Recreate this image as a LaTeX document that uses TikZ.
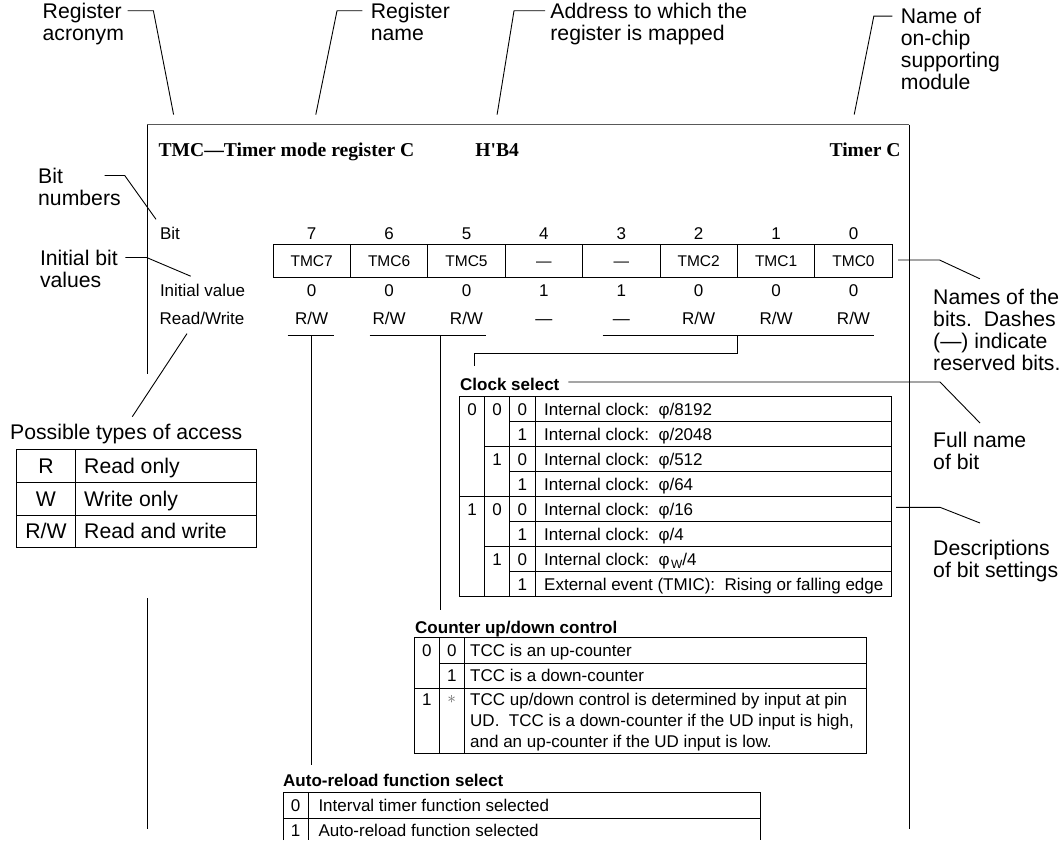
\documentclass[tikz,border=0pt]{standalone}
\usepackage{fontspec}
\setmainfont{Liberation Sans}
\newfontfamily\hdrfont{Liberation Serif}
\newcommand{\RWx}{R/W}
\newcommand{\phiwx}{φ\kern1.5pt\raisebox{-3.5pt}{\fontsize{12}{12}\selectfont W}/4}
\begin{document}
\begin{tikzpicture}[x=1pt,y=-1pt,
  lbl/.style={font=\fontsize{21.2}{22}\selectfont, inner sep=0pt, align=left, anchor=north west},
  tx/.style={font=\fontsize{17}{21}\selectfont, inner sep=0pt},
  cellt/.style={font=\fontsize{15.5}{18}\selectfont, inner sep=0pt, anchor=base},
  ttl/.style={font=\fontsize{17}{20}\selectfont\bfseries, inner sep=0pt, anchor=base west},
  hdr/.style={font=\fontsize{19.6}{22}\selectfont\hdrfont\bfseries, inner sep=0pt},
  big/.style={font=\fontsize{21.2}{23}\selectfont, inner sep=0pt},
  ln/.style={line width=1pt},
  lead/.style={line width=0.9pt},
  frametop/.style={line width=1.8pt, draw=black!65},
]
\useasboundingbox (0,0) rectangle (1059,840);

% ---------- frame ----------
\draw[frametop] (147.3,124.5) -- (909,124.5);
\draw[ln] (147.3,124.5) -- (147.3,373.8);
\draw[ln] (147.3,598) -- (147.3,829);
\draw[ln] (909,124.5) -- (909,829);

% ---------- top labels ----------
\node[lbl] (lacr) at (42.5,3) {Register\\acronym};
\node[lbl] (lname) at (370.7,3) {Register\\name};
\node[lbl] (laddr) at (550.2,3) {Address to which the\\register is mapped};
\node[lbl] (lmod) at (900.7,7.5) {Name of\\on-chip\\supporting\\module};

\coordinate (a1) at (127.5,10.8); \coordinate (a2) at (153.4,10.8); \coordinate (a3) at (173.6,114.6);
\coordinate (b1) at (362.3,10.8); \coordinate (b2) at (337,10.8);   \coordinate (b3) at (315.8,114.6);
\coordinate (c1) at (545.2,10.8); \coordinate (c2) at (514,10.8);   \coordinate (c3) at (497.1,114.6);
\coordinate (d1) at (892.3,16.2); \coordinate (d2) at (873.8,16.2); \coordinate (d3) at (854.2,114.6);
\draw[lead] (a1) -- (a2) -- (a3);
\draw[lead] (b1) -- (b2) -- (b3);
\draw[lead] (c1) -- (c2) -- (c3);
\draw[lead] (d1) -- (d2) -- (d3);

% ---------- header ----------
\node[hdr, anchor=base west] (hname) at (158.4,156.7) {TMC—Timer mode register C};
\node[hdr, anchor=base west] (haddr) at (475.2,156.7) {H'B4};
\node[hdr, anchor=base east] (hmod) at (900.7,156.7) {Timer C};

% ---------- left labels ----------
\node[lbl] (lbitn) at (38,168.2) {Bit\\numbers};
\node[lbl] (linit) at (39.8,249.7) {Initial bit\\values};
\coordinate (e1) at (104.5,175.5); \coordinate (e2) at (124.7,175.5); \coordinate (e3) at (156,219.3);
\coordinate (f1) at (125.4,257.5); \coordinate (f2) at (146.6,257.5); \coordinate (f3) at (190.7,276.2);
\draw[lead] (e1) -- (e2) -- (e3);
\draw[lead] (f1) -- (f2) -- (f3);

% ---------- register rows ----------
\node[tx, anchor=base west] (rbit) at (159.8,239) {Bit};
\node[tx, anchor=base west] (rinit) at (159.8,296.8) {Initial value};
\node[tx, anchor=base west] (rrw) at (159.5,324) {Read/Write};

\draw[ln] (273,244.3) rectangle (892.2,277.3);
\foreach \k in {1,...,7} \draw[ln] ({273+77.4*\k},244.3) -- ({273+77.4*\k},277.3);

\foreach \b/\nm/\iv/\rw [count=\k from 0] in
  {7/TMC7/0/\RWx, 6/TMC6/0/\RWx, 5/TMC5/0/\RWx, 4/—/1/—, 3/—/1/—, 2/TMC2/0/\RWx, 1/TMC1/0/\RWx, 0/TMC0/0/\RWx}
{
  \pgfmathsetmacro\cx{273+77.4*(\k+0.5)}
  \node[tx, anchor=base] (bn\b) at (\cx,239) {\b};
  \node[cellt] (rc\b) at (\cx,266.2) {\nm};
  \node[tx, anchor=base] (iv\b) at (\cx,296.8) {\iv};
  \node[tx, anchor=base] (rw\b) at (\cx,324) {\rw};
}

% underlines
\draw[ln] (287.5,335) -- (333.9,335);
\draw[ln] (369.7,335) -- (486,335);
\draw[ln] (602.5,335) -- (873.8,335);

% right labels
\node[lbl] (lnames) at (933,288.5) {Names of the\\bits.\ \ Dashes\\(—) indicate\\reserved bits.};
\node[lbl] (lfull) at (933,431.5) {Full name\\of bit};
\node[lbl] (ldesc) at (933,539.5) {Descriptions\\of bit settings};
\coordinate (g1) at (898,260);   \coordinate (g2) at (939.5,260); \coordinate (g3) at (979.9,278.8);
\coordinate (h1) at (568.3,382); \coordinate (h2) at (940,382);   \coordinate (h3) at (980,423);
\coordinate (i1) at (896,507.3); \coordinate (i2) at (940,507.3); \coordinate (i3) at (980,523);
\draw[lead] (g1) -- (g2) -- (g3);
\draw[lead] (h1) -- (h2) -- (h3);
\draw[lead] (i1) -- (i2) -- (i3);

% ---------- access types ----------
\node[big, anchor=base west] (lposs) at (10,439.3) {Possible types of access};
\coordinate (j1) at (187,333.6); \coordinate (j2) at (132.3,416.7);
\draw[lead] (j1) -- (j2);
\draw[ln] (16,449.3) rectangle (256.7,547.7);
\draw[ln] (75.7,449.3) -- (75.7,547.7);
\draw[ln] (16,482.3) -- (256.7,482.3);
\draw[ln] (16,515) -- (256.7,515);
\node[big, anchor=base] (acR) at (46,473.4) {R};
\node[big, anchor=base] (acW) at (46,506.2) {W};
\node[big, anchor=base] (acRW) at (46,538.9) {R/W};
\node[big, anchor=base west] (adR) at (84,473.4) {Read only};
\node[big, anchor=base west] (adW) at (84,506.2) {Write only};
\node[big, anchor=base west] (adRW) at (84,538.9) {Read and write};

% ---------- connectors from bit groups ----------
\coordinate (k7a) at (311.5,335); \coordinate (k7b) at (311.5,765);
\coordinate (k5a) at (440.5,335); \coordinate (k5b) at (440.5,610);
\coordinate (k2a) at (737.5,335); \coordinate (k2b) at (737.5,353.5);
\coordinate (k2c) at (474,353.5); \coordinate (k2d) at (474,365.7);
\draw[ln] (k7a) -- (k7b);
\draw[ln] (k5a) -- (k5b);
\draw[ln] (k2a) -- (k2b) -- (k2c) -- (k2d);

% ---------- clock select ----------
\node[ttl] (tclk) at (460,390) {Clock select};
\draw[ln] (459.3,396.7) rectangle (891,596.7);
\foreach \xx in {484.7,509.7,535} \draw[ln] (\xx,396.7) -- (\xx,596.7);
\foreach \yy/\xs in {421.7/509.7, 446.7/484.7, 471.7/509.7, 496.7/459.3, 521.7/509.7, 546.7/484.7, 571.7/509.7}
  \draw[ln] (\xs,\yy) -- (891,\yy);
\node[tx, anchor=base] (cs2a) at (472,415.3) {0};
\node[tx, anchor=base] (cs2b) at (472,515.3) {1};
\node[tx, anchor=base] (cs1a) at (497.2,415.3) {0};
\node[tx, anchor=base] (cs1b) at (497.2,465.3) {1};
\node[tx, anchor=base] (cs1c) at (497.2,515.3) {0};
\node[tx, anchor=base] (cs1d) at (497.2,565.3) {1};
\foreach \v [count=\r from 0] in {0,1,0,1,0,1,0,1}
  \node[tx, anchor=base] (cs0\r) at (522.3,{415.3+25*\r}) {\v};
\foreach \d [count=\r from 0] in {{Internal clock:\ \ φ/8192},{Internal clock:\ \ φ/2048},{Internal clock:\ \ φ/512},{Internal clock:\ \ φ/64},{Internal clock:\ \ φ/16},{Internal clock:\ \ φ/4},{Internal clock:\ \ \phiwx},{External event (TMIC):\ \ Rising or falling edge}}
  \node[tx, anchor=base west] (csd\r) at (544,{415.3+25*\r}) {\d};

% ---------- counter up/down control ----------
\node[ttl] (tcnt) at (415,633) {Counter up/down control};
\draw[ln] (414.3,637.7) rectangle (866,753.3);
\draw[ln] (439.3,637.7) -- (439.3,753.3);
\draw[ln] (464.3,637.7) -- (464.3,753.3);
\draw[ln] (439.3,663.3) -- (866,663.3);
\draw[ln] (414.3,688.3) -- (866,688.3);
\node[tx, anchor=base] (cu1a) at (426.8,656.6) {0};
\node[tx, anchor=base] (cu1b) at (426.8,705.1) {1};
\node[tx, anchor=base] (cu0a) at (451.8,656.6) {0};
\node[tx, anchor=base] (cu0b) at (451.8,681.9) {1};
\node[tx, text=black!60] (cu0c) at (451.8,699.5) {$\ast$};
\node[tx, anchor=base west] (cud0) at (470,656.6) {TCC is an up-counter};
\node[tx, anchor=base west] (cud1) at (470,681.9) {TCC is a down-counter};
\node[tx, anchor=base west] (cud2) at (470,705.1) {TCC up/down control is determined by input at pin};
\node[tx, anchor=base west] (cud3) at (470,726.1) {UD.\ \ TCC is a down-counter if the UD input is high,};
\node[tx, anchor=base west] (cud4) at (470,747.1) {and an up-counter if the UD input is low.};

% ---------- auto-reload ----------
\node[ttl] (tar) at (283,786.2) {Auto-reload function select};
\draw[ln] (283,840) -- (283,792.7) -- (760,792.7) -- (760,840);
\draw[ln] (308.3,792.7) -- (308.3,840);
\draw[ln] (283,818.5) -- (760,818.5);
\node[tx, anchor=base] (ar0) at (295.7,811.7) {0};
\node[tx, anchor=base] (ar1) at (295.7,836.9) {1};
\node[tx, anchor=base west] (ard0) at (318.3,811.7) {Interval timer function selected};
\node[tx, anchor=base west] (ard1) at (318.3,836.9) {Auto-reload function selected};
\end{tikzpicture}
\end{document}
